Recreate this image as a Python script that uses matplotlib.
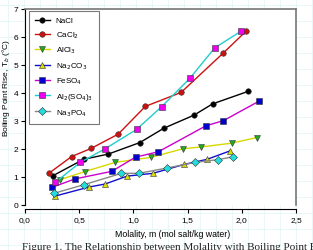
import matplotlib
matplotlib.use("Agg")
import matplotlib.pyplot as plt
from matplotlib.lines import Line2D

plt.rcParams['font.family'] = ['Liberation Sans', 'DejaVu Sans']

nacl_x = [0.26, 0.54, 0.77, 1.06, 1.28, 1.56, 1.73, 2.06]
nacl_y = [1.04, 1.62, 1.81, 2.22, 2.73, 3.20, 3.60, 4.05]
cacl2_x = [0.22, 0.43, 0.61, 0.86, 1.11, 1.44, 1.83, 2.04]
cacl2_y = [1.12, 1.72, 2.01, 2.52, 3.51, 4.01, 5.42, 6.20]
alcl3_x = [0.32, 0.55, 0.83, 1.16, 1.46, 1.62, 1.91, 2.14]
alcl3_y = [0.89, 1.18, 1.51, 1.69, 2.00, 2.06, 2.20, 2.40]
na2co3_x = [0.28, 0.59, 0.74, 0.94, 1.18, 1.47, 1.68, 1.89]
na2co3_y = [0.31, 0.63, 0.74, 1.02, 1.12, 1.44, 1.62, 1.92]
feso4_x = [0.25, 0.46, 0.80, 1.02, 1.23, 1.67, 1.83, 2.16]
feso4_y = [0.62, 0.92, 1.19, 1.70, 1.89, 2.82, 3.00, 3.70]
al2so43_x = [0.28, 0.51, 0.74, 1.03, 1.26, 1.52, 1.75, 1.99]
al2so43_y = [0.80, 1.51, 2.00, 2.69, 3.50, 4.51, 5.60, 6.19]
na3po4_x = [0.27, 0.54, 0.89, 1.05, 1.31, 1.57, 1.78, 1.92]
na3po4_y = [0.41, 0.71, 1.12, 1.12, 1.31, 1.51, 1.61, 1.71]

xticks = [0.0, 0.5, 1.0, 1.5, 2.0, 2.5]
xticklabels = ['0,0', '0,5', '1,0', '1,5', '2,0', '2,5']
yticks = [0, 1, 2, 3, 4, 5, 6, 7]

W, H = 313, 251
fig = plt.figure(figsize=(W / 100, H / 100), dpi=100)
fig.patch.set_facecolor('white')

# faint graph-paper background
for px in range(8, W, 16):
    fig.add_artist(Line2D([px / W, px / W], [0, 1], color='#e4f6f6', lw=0.6, zorder=0))
for py in range(6, H, 16):
    fig.add_artist(Line2D([0, 1], [1 - py / H, 1 - py / H], color='#e4f6f6', lw=0.6, zorder=0))

left, right = 25 / W, 296 / W
bottom, top = 1 - 205.7 / H, 1 - 9.7 / H
ax = fig.add_axes([left, bottom, right - left, top - bottom])
ax.set_facecolor('white')

series = [
    ('NaCl', nacl_x, nacl_y, 'black', 'o', 'black'),
    ('CaCl$_2$', cacl2_x, cacl2_y, '#cc1111', 'o', '#cc1111'),
    ('AlCl$_3$', alcl3_x, alcl3_y, '#d8d800', 'v', '#22aa22'),
    ('Na$_2$CO$_3$', na2co3_x, na2co3_y, '#1010cc', '^', '#dddd00'),
    ('FeSO$_4$', feso4_x, feso4_y, '#cc00cc', 's', '#0000cc'),
    ('Al$_2$(SO$_4$)$_3$', al2so43_x, al2so43_y, '#22cccc', 's', '#ee00ee'),
    ('Na$_3$PO$_4$', na3po4_x, na3po4_y, '#888888', 'D', '#22dddd'),
]
for label, xs, ys, lc, mk, mc in series:
    ax.plot(xs, ys, color=lc, lw=1.0, marker=mk, ms=4 if mk != 'D' else 3.6,
            mfc=mc, mec='#333333', mew=0.4, label=label)

ax.set_xlim(0, 2.5)
ax.set_ylim(0, 7)
ax.set_xticks(xticks)
ax.set_xticklabels(xticklabels)
ax.set_yticks(yticks)
ax.tick_params(axis='both', labelsize=6, length=3, width=0.8, direction='out', pad=2)
ax.spines['bottom'].set_position(('outward', 3))
for s in ['left', 'bottom']:
    ax.spines[s].set_color('black')
    ax.spines[s].set_linewidth(0.8)
for s in ['top', 'right']:
    ax.spines[s].set_color('#777777')
    ax.spines[s].set_linewidth(1.2)

ax.set_xlabel('Molality, m (mol salt/kg water)', fontsize=6.3, labelpad=3)
ax.xaxis.set_label_coords(0.546, -0.125)
ax.set_ylabel('Boiling Point Rise, T$_b$ (°C)', fontsize=6.0)
ax.yaxis.set_label_coords(-0.048, 0.60)

leg = ax.legend(loc='upper left', bbox_to_anchor=(0.013, 0.99), fontsize=5.8,
                frameon=True, fancybox=False, edgecolor='#555555',
                handlelength=1.9, handletextpad=0.7, labelspacing=0.62,
                borderpad=0.75, borderaxespad=0)
leg.get_frame().set_linewidth(0.8)

fig.text(22 / W, 1 - 243.5 / H, 'Figure 1. The Relationship between Molality with Boiling Point Rise',
         family='Liberation Serif', fontsize=8, va='top', ha='left', color='#222222')

fig.savefig('out.png', dpi=100, facecolor='white')
